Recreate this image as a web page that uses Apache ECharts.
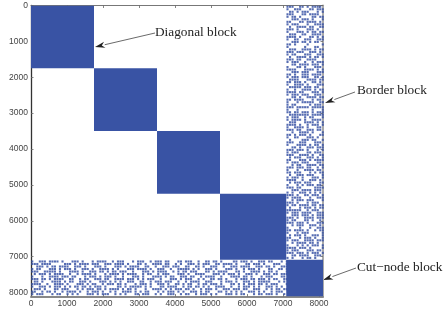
<!DOCTYPE html>
<html><head><meta charset="utf-8">
<style>html,body{margin:0;padding:0;background:#fff}#c{width:446px;height:315px}</style>
<script src="https://cdn.jsdelivr.net/npm/echarts@6/dist/echarts.min.js"></script>
</head><body><div id="c"></div>
<script>
const tickValues = [0,1000,2000,3000,4000,5000,6000,7000,8000];
const axisMax = 8111;
const blockStart = [0,1750,3500,5250,7090];
const blockEnd = [1750,3500,5250,7090,8111];
const cellStep = 70;
const borderStartX = 7090;
const bottomStartY = 7100;
// Hand-read texture of the sparse border block, one string per row (# = nonzero)
const borderRows = [
"###..##.#.####.","#..###...##.###",".##.#.###...#.#","###...##.####..","#.##.#....##.##",
"..###.###.#...#","##...##.####.#.","#.###...#..####",".#..####.##..##","###.#...###.#..",
"#...###.#.##.##",".###..##..####.","####.#...##.#.#","#..##..###..###","..###.##.#.##..",
"##.#....#.....#","#......#...##..",".###..####.#.##","###.###..###.#.","#.##...###..###",
".#..####.#.##.#","###.##..####...","#.###..#..#.###","..##.####.###.#","#...##.#...###.",
"####...####.#.#","..###.###...###","##.#..###.####.","#.###.###..##.#",".####...####.##",
"##.###.#..##.#.","#..####.#...###",".#####.###.##..","#..#..####.#.##","####.##...###.#",
"#.###.###..###.","..##.#..####.##","##.####...#.##.","#...#.#####..##","#.##.....#.###.",
"###.#####.#####","#...#.....#...#","##.##.###.#.###",".########.#####","#.###..#.##...#",
"#.####.#..####.",".###...####.#.#","####.#..#.###.#","#..####.#...##.","###.##..###.##.",
"..#..####.#...#","##.#.###.#...##","#..##...###.#..",".#....###.##..#","###..###...###.",
"#...####.#.##.#","..##.#..###.###","###.###.#...#.#","#.###...##.###.","###..####.#..##",
".#.###..###.#.#","##...###.#.####","#.###.###...##.","..#.##..####.##","###.###.##..#.#",
"#...#..####.##.","##.###...#.#.##",".#..###.###...#","#.###.#...###.#","####..#..###.#.",
".#.###.###...##","#...#.#.###.##.","###.##.....####","..###.####.###.","#.#..###.#.#.#.",
"###.#..##.###.#","#.####...#..###","..#.###.###...#","###.#...#.###..","#.##.####.##.##",
".#...#.###.#.##","######..#.###..","#.###.####..###","..###.###.#.###","###.#..####.###",
"#.##...##.#..#.","###.###.#...###","..#.###..###.#.","#....#...#..###","##.####.#..#.##",
"#...#.###.....#",".#.###.#..###.#","##...#.###.#..#","#.###..####.###","..#.####.##.#..",
"#...#.#.#.###.#","####.###.#....#","#.###...###.##.","###.###.#.###.#","..##.####..###.",
"#.#...#.##.#..."
];
// Hand-read texture of the sparse bottom block, one string per row (# = nonzero)
const bottomRows = [
"#..###.####.#...###.#...#.####..#.###...#.###..#.###.##...##.###..#..##.##.#....##.###.#..###.##...#.#",
"###.####.....###.#.####.###..###.####.#...##.#..####.##..#.#..###.#.###..##.####.#...##.###.#...###..#",
"..###.#.##.####..###.#...###.#...###.#.####..##..#..###.###..##..##.#..###..#..###.####..###.##.#..###",
"#.##...###.#.###.#..###.#..####.#.#...###.####.#..###..#..#####.#.#..###.#...###.#..#.###.#...##..##.#",
"###..#####.#...####.#..###.##.#.##.###..#...###.#.####..#.#.##.###...##.#.####...##.#..####.#.##.#...#",
".#.###.#.####..#..#.####.#...#.####.#.####..#.##..#.###...###.#..####...###.#.###.#..###.#..###.##.###",
"#...#..####.###.##...#.###.#.###.#..#...###.#...####.#.##..###.##..#.####..#...####.##.#...#.###...##.",
"###.##.#.####..##..#.##..###.##..####.###.#.#.###..#...###.#.###..#.#..##.##.#...#.###.##.###.#.##..##",
".##.#...####.#.##..###.#...###.#.#.#..###..##..#.###.###..#..#.####..###...#.###.#..###.#.#####...#.#.",
"####..#..####.#...###.#.##..#.###.##.#...#.###.#..###.#..##.#.##..#.##.###.#...##.#.#.###.##.#.###...#",
"#..###.#.###.#.#.##.##.#.###.#....##.#.#####.#.#...##.####..#.##.##.#.#..####..#..#.###.#.#..###.#.#..",
".###.#...##.###...#.#.###.##.#.####.#.##.#...#..####.#.#.###.##.#..#.###.#..###.###.##..###..#.#.##.##",
"##..#.##.#..#.####.#..#.###.#..#.#..####.#.#.##...#.#.###.#.#..###.#.##...##.#.#.#.#..###.#.#..#.###..",
"#.###...#.##..#.#.#...###.#.###..#.#.#...##.###..#.#..###..#.##..#.###.#.#...###.#.##...#.##.###.#..#.",
"###.#.#.#.##.#...#.###..#.#..##.#.###.##..#.#...###.#.#.##.#...#.####.##...##.#.#.#.##...#..#.###.#..#"
];
const labels = [
  {text:'Diagonal block', x:155, y:33, from:[155,33], to:[95,47]},
  {text:'Border block', x:357, y:91, from:[355,92], to:[325,103]},
  {text:'Cut\u2212node block', x:357, y:268, from:[356,268], to:[323,280]}
];

const blocks = blockStart.map((s,i)=>[s,blockEnd[i]]);
const sparse = [];
borderRows.forEach((r,i)=>{for(let j=0;j<r.length;j++) if(r[j]==='#') sparse.push([borderStartX+cellStep*(j+0.5), cellStep*(i+0.5)]);});
bottomRows.forEach((r,i)=>{for(let j=0;j<r.length;j++) if(r[j]==='#') sparse.push([cellStep*(j+0.5), bottomStartY+cellStep*(i+0.5)]);});

const tickLabel = {fontFamily:'Liberation Sans',fontSize:8.5,color:'#444',margin:3,formatter:v=>String(v)};
const color = '#3953a4';
const chart = echarts.init(document.getElementById('c'),null,{renderer:'canvas'});
const graphic = [];
labels.forEach(l=>{
  graphic.push({type:'text',left:l.x,top:l.y-7,style:{text:l.text,font:'13.3px "Liberation Serif"',fill:'#222'},silent:true});
  const dx=l.from[0]-l.to[0],dy=l.from[1]-l.to[1],n=Math.hypot(dx,dy),ux=dx/n,uy=dy/n;
  const bx=l.to[0]+ux*10,by=l.to[1]+uy*10,px=-uy*3,py=ux*3;
  graphic.push({type:'polyline',shape:{points:[l.from,[bx,by]]},style:{stroke:'#444',lineWidth:0.8,fill:null},silent:true});
  graphic.push({type:'polygon',shape:{points:[l.to,[bx+px,by+py],[l.to[0]+ux*7,l.to[1]+uy*7],[bx-px,by-py]]},style:{fill:'#222'},silent:true});
});
function axisCommon(show,lineColor,lineW){
  return {min:0,max:axisMax,
    axisLine:{show:true,onZero:false,lineStyle:{color:lineColor,width:lineW}},
    axisTick:{show:true,inside:true,length:2.5,customValues:tickValues,lineStyle:{color:'#666',width:0.8}},
    axisLabel:Object.assign({show:show,customValues:tickValues},tickLabel),
    splitLine:{show:false}};
}
chart.setOption({
  animation:false,
  backgroundColor:'#fff',
  grid:{left:31,top:5.5,width:292,height:291},
  xAxis:[
    Object.assign({type:'value',position:'bottom'},axisCommon(true,'#888',2)),
    Object.assign({type:'value',position:'top'},axisCommon(false,'#777',1))
  ],
  yAxis:[
    Object.assign({type:'value',position:'left',inverse:true},axisCommon(true,'#333',1.3)),
    Object.assign({type:'value',position:'right',inverse:true},axisCommon(false,'#aaa',2))
  ],
  series:[
    {type:'scatter',data:sparse,symbol:'rect',symbolSize:2.1,itemStyle:{color:color,opacity:0.85},silent:true,large:false},
    {type:'custom',data:blocks,silent:true,clip:true,
     encode:{x:[0,1],y:[0,1]},
     renderItem(p,api){
       const a=api.coord([api.value(0),api.value(0)]),b=api.coord([api.value(1),api.value(1)]);
       return {type:'rect',shape:{x:a[0],y:a[1],width:b[0]-a[0],height:b[1]-a[1]},style:{fill:color}};
     }}
  ],
  graphic:graphic
});
</script></body></html>
